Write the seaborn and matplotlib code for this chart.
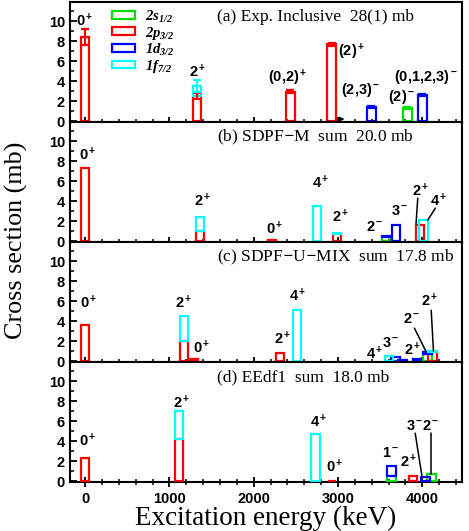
import numpy as np
import matplotlib
matplotlib.use('Agg')
import matplotlib.pyplot as plt
from matplotlib.patches import Patch
from matplotlib.ticker import MultipleLocator
import seaborn as sns

sns.set_style('ticks')
matplotlib.rcParams['font.family'] = ['Liberation Sans', 'DejaVu Sans']
matplotlib.rcParams['text.color'] = 'k'
matplotlib.rcParams['axes.edgecolor'] = 'k'
matplotlib.rcParams['xtick.color'] = 'k'
matplotlib.rcParams['ytick.color'] = 'k'
matplotlib.rcParams['axes.labelcolor'] = 'k'
matplotlib.rcParams['mathtext.fontset'] = 'custom'
matplotlib.rcParams['mathtext.rm'] = 'Liberation Serif:italic:bold'
matplotlib.rcParams['mathtext.it'] = 'Liberation Serif:italic:bold'
matplotlib.rcParams['mathtext.bf'] = 'Liberation Sans:bold'

# orbital components (stacked bottom -> top): 2s1/2, 2p3/2, 1d3/2, 1f7/2
orbitals = ['$2s_{1/2}$', '$2p_{3/2}$', '$1d_{3/2}$', '$1f_{7/2}$']
colors = ['#00dd00', '#ff0000', '#0000ff', '#00ffff']

# (a) experiment
exp_E = [0, 1330, 2436, 2924, 3396, 3823, 4001]
exp_s = [0, 0, 0, 0, 0, 1.33, 0]
exp_p = [8.4, 2.5, 2.95, 7.7, 0, 0, 0]
exp_d = [0, 0, 0, 0, 1.4, 0, 2.59]
exp_f = [0, 1.0, 0, 0, 0, 0, 0]
exp_err_s = [0, 0, 0, 0, 0, 0.1, 0]
exp_err_p = [0.8, 0.3, 0.12, 0.15, 0, 0, 0]
exp_err_d = [0, 0, 0, 0, 0.1, 0, 0.1]
exp_err_f = [0, 0.6, 0, 0, 0, 0, 0]
exp_labels = ['$\\mathbf{0^+}$', '$\\mathbf{2^+}$', '$\\mathbf{(0{,}2)^+}$', '$\\mathbf{(2)^+}$',
              '$\\mathbf{(2{,}3)^-}$', '$\\mathbf{(2)^-}$', '$\\mathbf{(0{,}1{,}2{,}3)^-}$']
exp_lab_x = [0, 1330, 2400, 3155, 3274, 3748, 4045]
exp_lab_y = [10.0, 4.9, 4.3, 6.95, 3.1, 2.4, 4.4]

# (b) SDPF-M
sdpfm_E = [0, 1364, 2214, 2752, 2989, 3567, 3689, 3975, 4015]
sdpfm_s = [0, 0, 0, 0, 0, 0.37, 0, 0, 0]
sdpfm_p = [7.3, 1.0, 0.1, 0, 0.7, 0, 0, 1.6, 0]
sdpfm_d = [0, 0, 0, 0, 0, 0.16, 1.6, 0, 0]
sdpfm_f = [0, 1.45, 0, 3.52, 0.14, 0, 0, 0, 2.1]
sdpfm_labels = ['$\\mathbf{0^+}$', '$\\mathbf{2^+}$', '$\\mathbf{0^+}$', '$\\mathbf{4^+}$',
                '$\\mathbf{2^+}$', '$\\mathbf{2^-}$', '$\\mathbf{3^-}$', '$\\mathbf{2^+}$', '$\\mathbf{4^+}$']
sdpfm_lab_x = [30, 1395, 2245, 2791, 3036, 3431, 3728, 3978, 4196]
sdpfm_lab_y = [8.6, 4.0, 1.2, 5.8, 2.4, 1.4, 3.0, 5.0, 4.0]
sdpfm_lines = [((3946, 4.3), (3925, 1.7)), ((4155, 3.3), (4064, 2.1))]

# (c) SDPF-U-MIX
sdpfu_E = [0, 1172, 1285, 2309, 2516, 3605, 3683, 3765, 3935, 4060, 4120]
sdpfu_s = [0, 0, 0, 0, 0, 0, 0, 0, 0.1, 0.7, 0]
sdpfu_p = [3.65, 2.05, 0.17, 0.8, 0, 0, 0, 0, 0, 0, 0.94]
sdpfu_d = [0, 0, 0, 0, 0, 0, 0.44, 0.1, 0.1, 0.17, 0]
sdpfu_f = [0, 2.42, 0, 0, 5.07, 0.54, 0, 0, 0, 0, 0.06]
sdpfu_labels = ['$\\mathbf{0^+}$', '$\\mathbf{2^+}$', '$\\mathbf{0^+}$', '$\\mathbf{2^+}$',
                '$\\mathbf{4^+}$', '$\\mathbf{4^+}$', '$\\mathbf{3^-}$', '$\\mathbf{2^+}$',
                '$\\mathbf{2^-}$', '$\\mathbf{2^+}$']
sdpfu_lab_x = [43, 1166, 1383, 2344, 2522, 3431, 3630, 3887, 3879, 4093]
sdpfu_lab_y = [5.8, 5.8, 1.38, 2.2, 6.5, 0.7, 1.8, 1.1, 4.2, 6.0]
sdpfu_lines = [((3906, 3.3), (4045, 0.94)), ((4105, 5.1), (4132, 1.0))]

# (d) EEdf1
eedf1_E = [0, 1113, 2732, 2930, 3634, 3890, 4037, 4108]
eedf1_s = [0, 0, 0, 0, 0.53, 0, 0, 0.7]
eedf1_p = [2.3, 4.2, 0, 0.05, 0, 0.53, 0, 0]
eedf1_d = [0, 0, 0, 0, 1.0, 0, 0.44, 0]
eedf1_f = [0, 2.78, 4.73, 0, 0, 0, 0, 0]
eedf1_labels = ['$\\mathbf{0^+}$', '$\\mathbf{2^+}$', '$\\mathbf{4^+}$', '$\\mathbf{0^+}$',
                '$\\mathbf{1^-}$', '$\\mathbf{2^+}$', '$\\mathbf{3^-}$', '$\\mathbf{2^-}$']
eedf1_lab_x = [31, 1150, 2771, 2957, 3630, 3839, 3906, 4104]
eedf1_lab_y = [4.0, 7.8, 5.9, 1.4, 2.85, 1.95, 5.47, 5.47]
eedf1_lines = [((3915, 4.8), (3997, 0.43)), ((4104, 4.8), (4104, 0.7))]

panels = [
    ('(a) Exp. Inclusive  28(1) mb', exp_E, [exp_s, exp_p, exp_d, exp_f],
     exp_labels, exp_lab_x, exp_lab_y, []),
    ('(b) SDPF$-$M  sum  20.0 mb', sdpfm_E, [sdpfm_s, sdpfm_p, sdpfm_d, sdpfm_f],
     sdpfm_labels, sdpfm_lab_x, sdpfm_lab_y, sdpfm_lines),
    ('(c) SDPF$-$U$-$MIX  sum  17.8 mb', sdpfu_E, [sdpfu_s, sdpfu_p, sdpfu_d, sdpfu_f],
     sdpfu_labels, sdpfu_lab_x, sdpfu_lab_y, sdpfu_lines),
    ('(d) EEdf1  sum  18.0 mb', eedf1_E, [eedf1_s, eedf1_p, eedf1_d, eedf1_f],
     eedf1_labels, eedf1_lab_x, eedf1_lab_y, eedf1_lines),
]
exp_errs = [exp_err_s, exp_err_p, exp_err_d, exp_err_f]

fig, axes = plt.subplots(4, 1, figsize=(4.69, 5.31), dpi=100, sharex=True)
fig.subplots_adjust(left=0.149, right=0.985, top=0.996, bottom=0.092, hspace=0)

for i, (ax, (title, E, comps, labs, lx, ly, lines)) in enumerate(zip(axes, panels)):
    E = np.array(E, dtype=float)
    bottom = np.zeros(len(E))
    for k, (h, c) in enumerate(zip(comps, colors)):
        h = np.array(h, dtype=float)
        m = h > 0
        ax.bar(E[m], h[m], bottom=bottom[m], width=100, fill=False,
               edgecolor=c, linewidth=1.6, zorder=3)
        if i == 0:
            err = np.array(exp_errs[k])
            me = err > 0
            ax.errorbar(E[me], (bottom + h)[me], yerr=err[me], fmt='none',
                        ecolor=c, elinewidth=1.6, capsize=3, capthick=1.6, zorder=4)
        bottom = bottom + h
    for t, x, y in zip(labs, lx, ly):
        ax.text(x, y, t, ha='center', va='center', fontsize=10.5, zorder=5)
    for (x0, y0), (x1, y1) in lines:
        ax.plot([x0, x1], [y0, y1], color='k', lw=1.1, zorder=5)
    ax.text(0.374, 0.875, title, transform=ax.transAxes, ha='left', va='center',
            fontsize=12.5, family=['Liberation Serif', 'DejaVu Serif'])
    ax.set_xlim(-180, 4470)
    ax.set_ylim(-0.1, 11.9)
    ax.xaxis.set_major_locator(MultipleLocator(1000))
    ax.xaxis.set_minor_locator(MultipleLocator(200))
    ax.yaxis.set_major_locator(MultipleLocator(2))
    ax.yaxis.set_minor_locator(MultipleLocator(1))
    ax.tick_params(axis='x', which='major', direction='inout', length=7, width=1.3)
    ax.tick_params(axis='x', which='minor', direction='inout', length=4, width=1.1)
    ax.tick_params(axis='y', which='major', direction='in', length=5, width=1.3)
    ax.tick_params(axis='y', which='minor', direction='in', length=3, width=1.1)
    ax.tick_params(labelsize=10.5)
    for lab in ax.get_xticklabels() + ax.get_yticklabels():
        lab.set_fontweight('bold')
    for sp in ax.spines.values():
        sp.set_linewidth(1.5)
        sp.set_visible(True)

# small arrow in (a)
axes[0].annotate('', xy=(3110, 0.2), xytext=(2990, 0.2),
                 arrowprops=dict(arrowstyle='-|>', color='k', lw=1.0, mutation_scale=7))

handles = [Patch(facecolor='none', edgecolor=c, linewidth=1.6) for c in colors]
axes[0].legend(handles, orbitals, loc='upper left', bbox_to_anchor=(0.085, 1.02),
               frameon=False, fontsize=10.5, handlelength=1.6, handleheight=0.45,
               labelspacing=0.0, handletextpad=0.7, borderaxespad=0.2)

axes[-1].set_xlabel('Excitation energy (keV)', fontsize=19.5,
                    family=['Liberation Serif', 'DejaVu Serif'], labelpad=0)
fig.text(0.036, 0.548, 'Cross section (mb)', rotation=90, ha='center', va='center',
         fontsize=18.8, family=['Liberation Serif', 'DejaVu Serif'])

fig.savefig('out.png', dpi=100)
